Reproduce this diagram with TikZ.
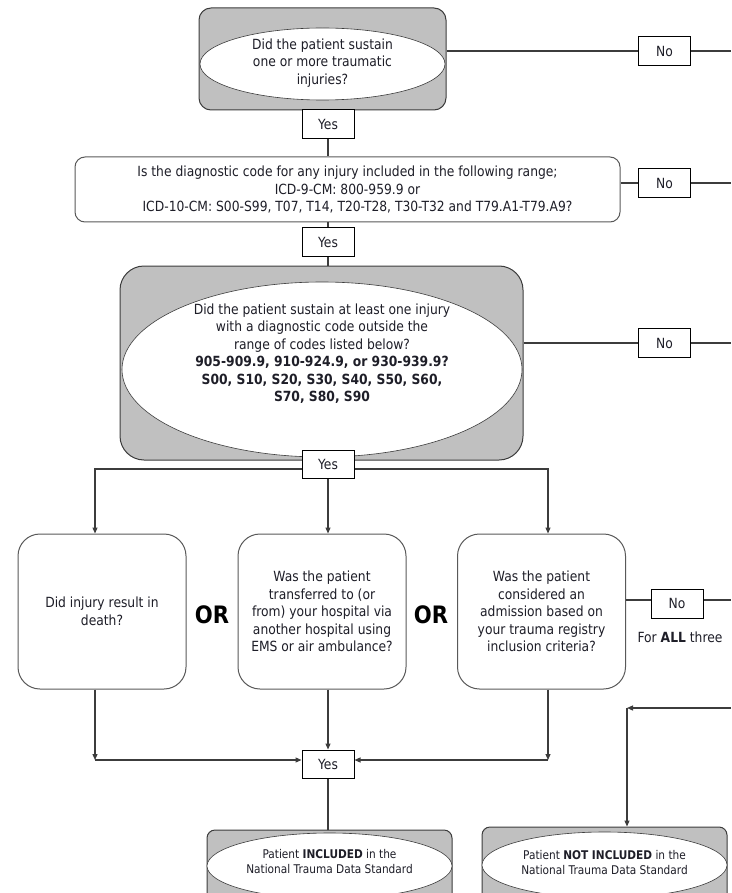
\documentclass[tikz,border=0pt]{standalone}
\usepackage{fontspec}
\setmainfont{DejaVu Sans}[FakeStretch=0.88]
\usetikzlibrary{shapes.geometric,arrows.meta}

\definecolor{linegray}{HTML}{3C3C3C}
\definecolor{fillgray}{HTML}{C0C0C0}
\definecolor{textdark}{HTML}{1E1E28}

\tikzset{
  ln/.style={draw=linegray, line width=1.2pt},
  arr/.style={ln, -{Triangle[length=6pt,width=5pt]}},
  graybox/.style={draw=linegray, line width=1pt, fill=fillgray, rounded corners=#1},
  graybox/.default=12pt,
  oval/.style={ellipse, draw=linegray, line width=0.6pt, fill=white, inner sep=0pt},
  qbox/.style={draw=linegray!85, line width=1pt, fill=white, rounded corners=#1,
    align=center, inner sep=0pt, text=textdark, font=\fontsize{14}{17.5}\selectfont},
  qbox/.default=10pt,
  qtext/.style={align=center, inner sep=0pt, text=textdark, font=\fontsize{14}{17.5}\selectfont},
  endtext/.style={align=center, inner sep=0pt, text=textdark, font=\fontsize{12}{15}\selectfont},
  tagbox/.style={draw=black, line width=1pt, fill=white, minimum width=52pt, minimum height=29pt,
    inner sep=0pt, text=textdark, font=\fontsize{14}{17}\selectfont},
  ortext/.style={inner sep=0pt, font=\fontsize{24}{24}\selectfont\bfseries},
}

\begin{document}
\begin{tikzpicture}[x=1pt, y=-1pt]
\useasboundingbox (0,0) rectangle (731,893);
\clip (0,0) rectangle (731,893);

% 第一个问题
\node[graybox, minimum width=247pt, minimum height=102pt] (q1box) at (322.5,59) {};
\node[oval, minimum width=245pt, minimum height=72pt] (q1oval) at (322.5,64) {};
\node[qtext] (q1) at (322.5,63) {Did the patient sustain\\one or more traumatic\\injuries?};
\node[tagbox] (no1) at (664.5,51) {No};
\coordinate (r1) at (731,51);
\node[tagbox] (yes1) at (328,124) {Yes};

% 诊断代码范围
\node[qbox, minimum width=545pt, minimum height=65pt] (q2) at (347.5,189.5)
  {Is the diagnostic code for any injury included in the following range;\\
   ICD-9-CM: 800-959.9 or\\
   \hspace*{20pt}ICD-10-CM: S00-S99, T07, T14, T20-T28, T30-T32 and T79.A1-T79.A9?};
\node[tagbox] (no2) at (664.5,183) {No};
\coordinate (r2) at (731,183);
\node[tagbox] (yes2) at (328,242) {Yes};

% 范围以外的代码
\node[graybox=24pt, minimum width=403pt, minimum height=194pt] (q3box) at (321.5,363) {};
\node[oval, minimum width=400pt, minimum height=175pt] (q3oval) at (322,369.5) {};
\node[qtext] (q3) at (322,353.5)
  {Did the patient sustain at least one injury\\
   with a diagnostic code outside the\\
   range of codes listed below?\\
   \textbf{905-909.9, 910-924.9, or 930-939.9?}\\
   \textbf{S00, S10, S20, S30, S40, S50, S60,}\\
   \textbf{S70, S80, S90}};
\node[tagbox] (no3) at (664.5,343) {No};
\coordinate (r3) at (731,343);
\node[tagbox, minimum height=28pt] (yes3) at (328,464) {Yes};

% 三个条件
\node[qbox=22pt, minimum width=168pt, minimum height=155pt] (ca) at (102,611.5)
  {Did injury result in\\death?};
\node[qbox=22pt, minimum width=168pt, minimum height=155pt] (cb) at (322,611.5)
  {Was the patient\\transferred to (or\\from) your hospital via\\another hospital using\\EMS or air ambulance?};
\node[qbox=22pt, minimum width=168pt, minimum height=155pt] (cc) at (541.5,611.5)
  {Was the patient\\considered an\\admission based on\\your trauma registry\\inclusion criteria?};
\node[ortext] (or1) at (212,615) {OR};
\node[ortext] (or2) at (431,615) {OR};
\node[tagbox] (no4) at (677,603.5) {No};
\node[qtext] (forall) at (680,637) {For \textbf{ALL} three};
\coordinate (r4) at (731,600);

\node[tagbox, minimum height=28pt] (yes4) at (328,764) {Yes};

% 结果
\node[graybox=8pt, minimum width=245pt, minimum height=72pt] (incbox) at (329.5,866) {};
\node[oval, minimum width=245pt, minimum height=66pt] (incoval) at (329.5,866) {};
\node[endtext] (inc) at (329.5,862) {Patient \textbf{INCLUDED} in the\\National Trauma Data Standard};
\node[graybox=8pt, minimum width=245pt, minimum height=76pt] (notbox) at (604.5,865) {};
\node[oval, minimum width=245pt, minimum height=66pt] (notoval) at (604.5,865) {};
\node[endtext] (notinc) at (604.5,863) {Patient \textbf{NOT INCLUDED} in the\\National Trauma Data Standard};

% 连线
\draw[ln] (q1box.east |- no1.west) -- (no1.west);
\draw[ln] (no1.east) -- (r1);
\draw[ln] (yes1.south) -- (yes1.south |- q2.north);
\draw[ln] (q2.east |- no2.west) -- (no2.west);
\draw[ln] (no2.east) -- (r2);
\draw[ln] (yes2.north) -- (yes2.north |- q2.south);
\draw[ln] (yes2.south) -- (yes2.south |- q3box.north);
\draw[ln] (q3box.east |- no3.west) -- (no3.west);
\draw[ln] (no3.east) -- (r3);

\coordinate (fanL) at (95,469);
\coordinate (fanR) at (548,469);
\draw[arr] (yes3.west |- fanL) -- (fanL) -- (fanL |- ca.north);
\draw[arr] (yes3.east |- fanR) -- (fanR) -- (fanR |- cc.north);
\draw[arr] (yes3.south) -- (yes3.south |- cb.north);

\draw[ln] (cc.east |- r4) -- (no4.west |- r4);
\draw[ln] (no4.east |- r4) -- (r4);

\coordinate (joinL) at (95,760);
\coordinate (joinR) at (548,760);
\draw[arr] (fanL |- ca.south) -- (joinL);
\draw[arr] (joinL) -- (yes4.west |- joinL);
\draw[arr] (fanR |- cc.south) -- (joinR);
\draw[arr] (joinR) -- (yes4.east |- joinR);
\draw[arr] (yes4.north |- cb.south) -- (yes4.north);
\draw[ln] (yes4.south) -- (yes4.south |- incbox.north);

\coordinate (r5) at (731,708);
\coordinate (bend) at (627,708);
\draw[arr] (r5) -- (bend);
\draw[arr] (bend) -- (bend |- notbox.north);

\end{tikzpicture}
\end{document}
